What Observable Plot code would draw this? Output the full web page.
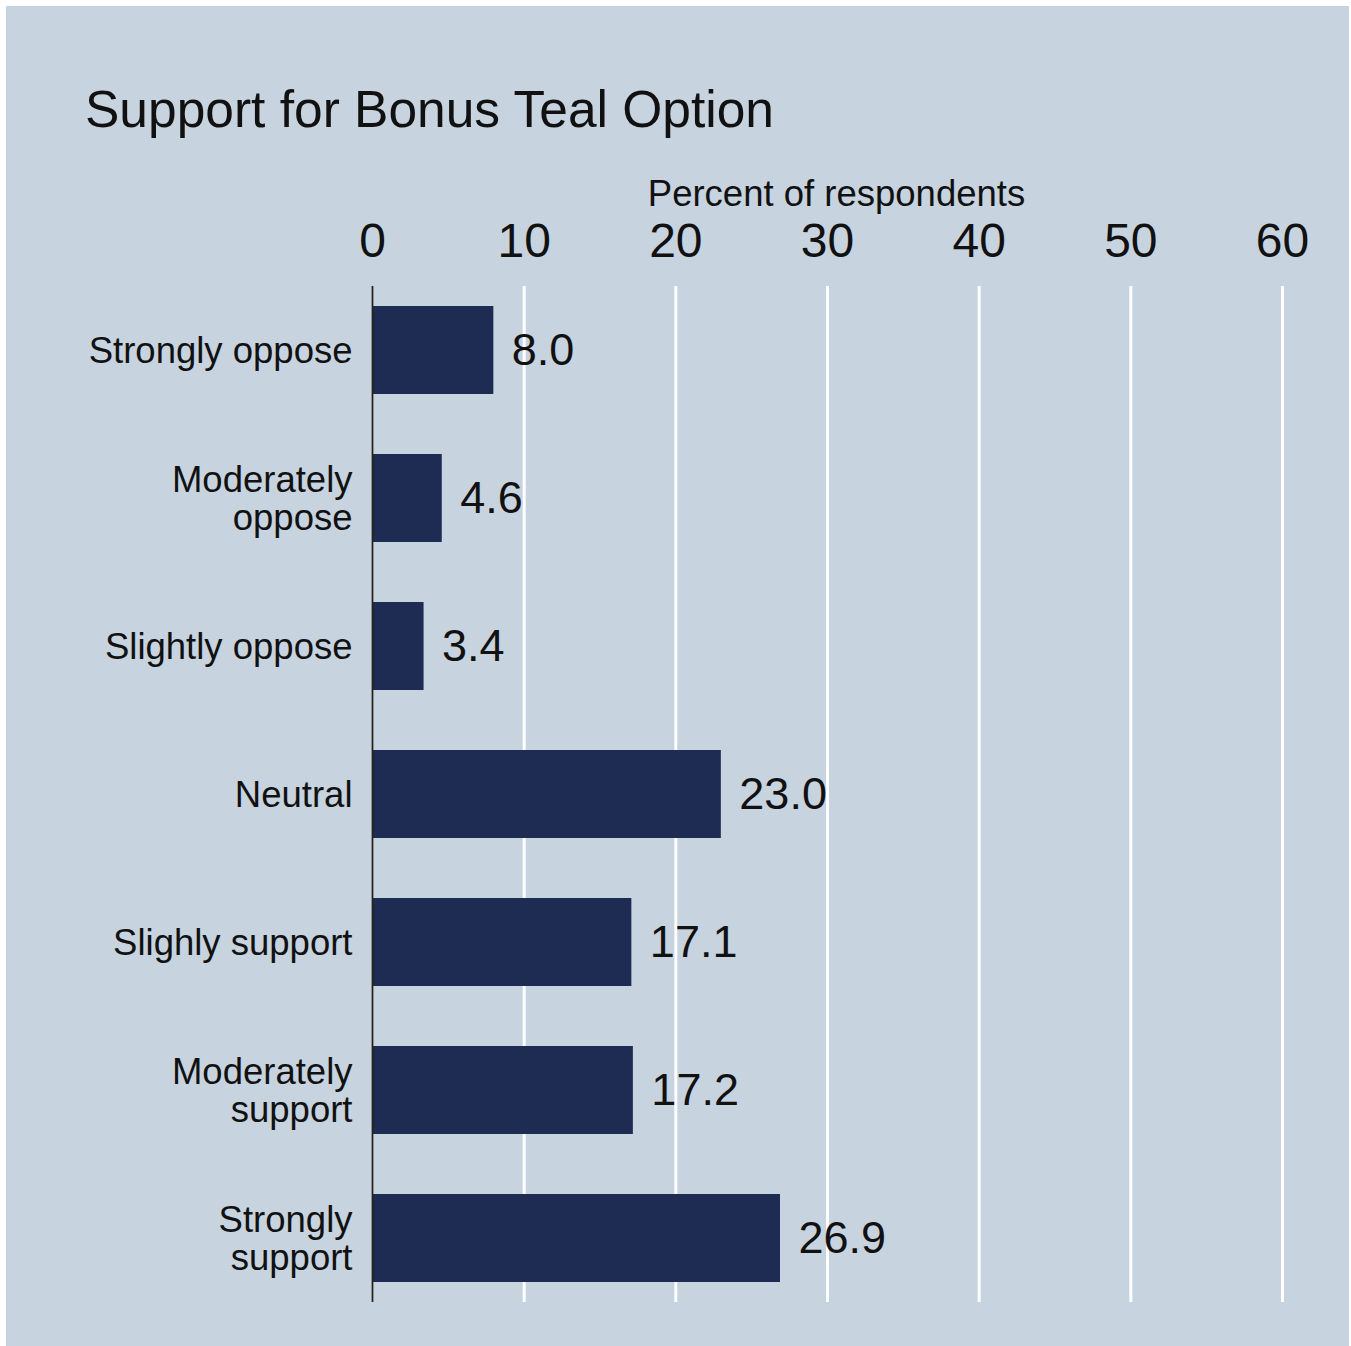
<!DOCTYPE html>
<html><head><meta charset="utf-8">
<script src="https://cdn.jsdelivr.net/npm/d3@7"></script>
<script src="https://cdn.jsdelivr.net/npm/@observablehq/plot@0.6"></script>
<style>
html,body{margin:0;padding:0;background:#fff;}
#panel{position:absolute;left:6px;top:6px;width:1343px;height:1340px;background:#c7d3df;font-family:"Liberation Sans",Arial,sans-serif;color:#111;}
#title{position:absolute;left:79px;top:78px;font-size:51.5px;line-height:1;white-space:nowrap;}
#chart{position:absolute;left:0;top:144px;}
</style></head><body>
<div id="panel"><div id="title">Support for Bonus Teal Option</div><div id="chart"></div></div>
<script>
const categories = ["Strongly oppose", "Moderately oppose", "Slightly oppose", "Neutral", "Slighly support", "Moderately support", "Strongly support"];
const tickLabels = ["Strongly oppose", "Moderately\noppose", "Slightly oppose", "Neutral", "Slighly support", "Moderately\nsupport", "Strongly\nsupport"];
const values = [8.0, 4.6, 3.4, 23.0, 17.1, 17.2, 26.9];
const xTicks = [0, 10, 20, 30, 40, 50, 60];
const axisTitle = "Percent of respondents";

const data = categories.map((c, i) => ({category: c, value: values[i]}));
const font = '"Liberation Sans", Arial, sans-serif';

const chart = Plot.plot({
  width: 1343, height: 1196,
  marginLeft: 366, marginRight: 67, marginTop: 136, marginBottom: 44,
  style: {background: "transparent", fontFamily: font, color: "#111", overflow: "visible"},
  x: {domain: [0, 60]},
  y: {domain: categories, paddingInner: 0.405, paddingOuter: 0.133},
  marks: [
    Plot.ruleX(xTicks, {stroke: "#fff", strokeWidth: 3}),
    Plot.barX(data, {x: "value", y: "category", fill: "#1e2b52"}),
    Plot.ruleX([0], {stroke: "#222", strokeWidth: 2}),
    Plot.text(data, {x: "value", y: "category", text: d => d.value.toFixed(1), dx: 18, textAnchor: "start", fontSize: 45, fill: "#111"}),
    Plot.axisX({anchor: "top", ticks: xTicks, tickSize: 0, tickPadding: 30, fontSize: 48, label: null}),
    Plot.axisY({tickSize: 0, tickPadding: 20, fontSize: 36.5, lineHeight: 1.05, tickFormat: d => tickLabels[categories.indexOf(d)], label: null}),
    Plot.text([axisTitle], {frameAnchor: "top", dy: -81, dx: 9, lineAnchor: "bottom", fontSize: 36.5, fill: "#111"})
  ]
});
document.getElementById("chart").appendChild(chart);
</script>
</body></html>
